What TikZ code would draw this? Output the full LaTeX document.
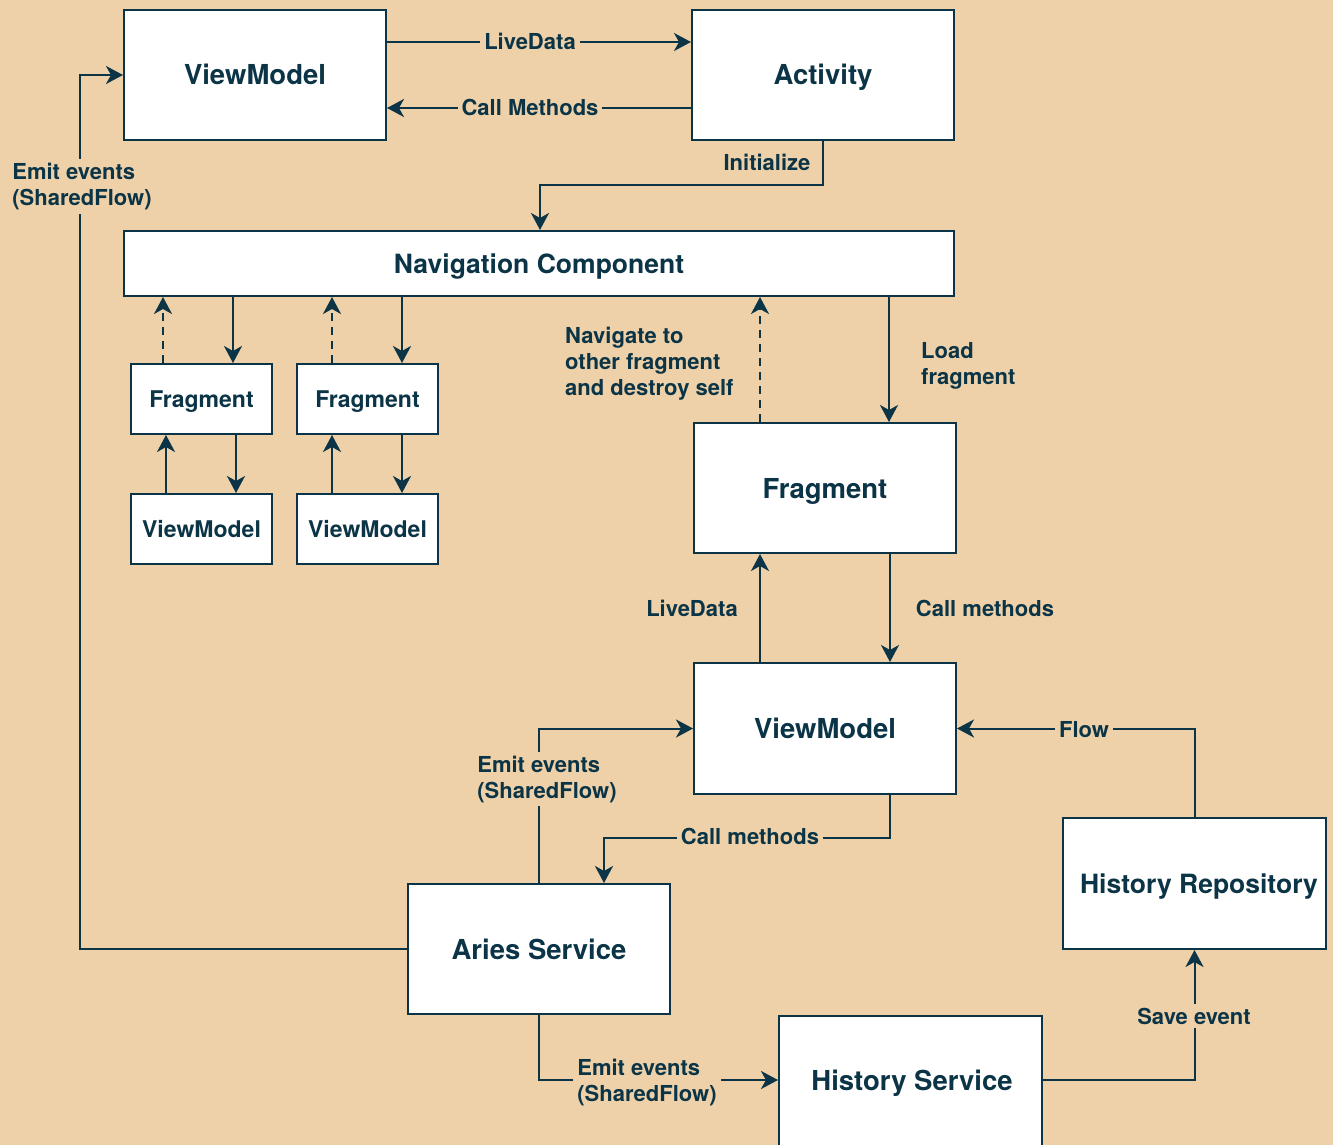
\documentclass[tikz,border=0pt]{standalone}
\usepackage{fontspec}
\setmainfont{TeX Gyre Heros}
\usetikzlibrary{arrows.meta}
\definecolor{bg}{HTML}{EED1A9}
\definecolor{ink}{HTML}{0B3446}
\begin{document}
\begin{tikzpicture}[x=1pt,y=-1pt,
  box/.style={draw=ink, fill=white, line width=2pt, text=ink, inner sep=0pt,
    font=\bfseries\fontsize{27.5}{31}\selectfont, text height=20pt, text depth=0pt},
  bigbox/.style={box, minimum width=262pt, minimum height=130pt},
  smallbox/.style={box, minimum width=141pt, minimum height=70pt,
    font=\bfseries\fontsize{23}{27}\selectfont, text height=16.5pt, text depth=0pt},
  lbl/.style={text=ink, font=\bfseries\fontsize{22}{26}\selectfont, fill=bg,
    inner sep=4pt, align=left},
  one/.style={text height=16pt, text depth=0pt},
  freelbl/.style={text=ink, font=\bfseries\fontsize{22}{26}\selectfont,
    inner sep=0pt, align=left},
  conn/.style={draw=ink, line width=2pt},
  arr/.style={conn, -{Stealth[length=17pt,width=18pt,inset=5pt]}},
  darr/.style={arr, dash pattern=on 8pt off 6pt}
]
\fill[bg] (0,0) rectangle (1333,1145);
\useasboundingbox (0,0) rectangle (1333,1145);

% boxes
\node[bigbox] (vm1) at (255,75) {ViewModel};
\node[bigbox] (act) at (823,75) {Activity};
\node[box, minimum width=830pt, minimum height=65pt, font=\bfseries\fontsize{26.5}{30}\selectfont] (nav) at (539,263.5) {Navigation Component};
\node[smallbox] (fr1) at (201.5,399) {Fragment};
\node[smallbox] (vmA) at (201.5,529) {ViewModel};
\node[smallbox] (fr2) at (367.5,399) {Fragment};
\node[smallbox] (vmB) at (367.5,529) {ViewModel};
\node[bigbox] (frag) at (825,488) {Fragment};
\node[bigbox, minimum height=131pt] (vm2) at (825,728.5) {ViewModel};
\node[bigbox, minimum width=263pt, minimum height=131pt] (hrepo) at (1194.5,883.5) {};
\node[box, draw=none, fill=none, font=\bfseries\fontsize{26.5}{30}\selectfont] (hrepotext) at (1199,883.5) {History Repository};
\node[bigbox] (aries) at (539,949) {Aries Service};
\node[box, minimum width=263pt, minimum height=160pt, anchor=north] (hist) at (910.5,1015) {};
\node[box, draw=none, fill=none] (histtext) at (912,1080) {History Service};

% helper coordinates
\coordinate (y42) at (0,42);
\coordinate (y108) at (0,108);
\coordinate (y185) at (0,185);
\coordinate (y838) at (0,838);
\coordinate (x80) at (80,0);
\coordinate (x163) at (163,0);
\coordinate (x166) at (166,0);
\coordinate (x233) at (233,0);
\coordinate (x236) at (236,0);
\coordinate (x332) at (332,0);
\coordinate (x402) at (402,0);
\coordinate (x540) at (540,0);
\coordinate (x604) at (604,0);
\coordinate (x760) at (760,0);
\coordinate (x889) at (889,0);
\coordinate (x890) at (890,0);

% top connectors
\draw[arr] (vm1.east |- y42) -- (act.west |- y42);
\draw[arr] (act.west |- y108) -- (vm1.east |- y108);
\draw[arr] (act.south) -- (act.south |- y185) -- (x540 |- y185) -- (x540 |- nav.north);

% small fragments
\draw[darr] (x163 |- fr1.north) -- (x163 |- nav.south);
\draw[arr] (x233 |- nav.south) -- (x233 |- fr1.north);
\draw[darr] (x332 |- fr2.north) -- (x332 |- nav.south);
\draw[arr] (x402 |- nav.south) -- (x402 |- fr2.north);
\draw[arr] (x236 |- fr1.south) -- (x236 |- vmA.north);
\draw[arr] (x166 |- vmA.north) -- (x166 |- fr1.south);
\draw[arr] (x402 |- fr2.south) -- (x402 |- vmB.north);
\draw[arr] (x332 |- vmB.north) -- (x332 |- fr2.south);

% big fragment
\draw[darr] (x760 |- frag.north) -- (x760 |- nav.south);
\draw[arr] (x889 |- nav.south) -- (x889 |- frag.north);
\draw[arr] (x760 |- vm2.north) -- (x760 |- frag.south);
\draw[arr] (x890 |- frag.south) -- (x890 |- vm2.north);

% lower connectors
\draw[arr] (hrepo.north) |- (vm2.east);
\draw[arr] (aries.north) |- (vm2.west);
\draw[arr] (x890 |- vm2.south) -- (x890 |- y838) -- (x604 |- y838) -- (x604 |- aries.north);
\draw[arr] (aries.west) -- (x80 |- aries.west) -- (x80 |- vm1.west) -- (vm1.west);
\draw[arr] (aries.south) -- (aries.south |- histtext) -- (hist.west |- histtext);
\draw[arr] (hist.east |- histtext) -- (hrepo.south |- histtext) -- (hrepo.south);

% labels
\node[lbl, one] (lLive) at (530,42) {LiveData};
\node[lbl, one] (lCall) at (530,108) {Call Methods};
\node[freelbl, one] (lInit) at (767,163) {Initialize};
\node[freelbl, anchor=west] (lNav) at (565,363.5) {Navigate to\\other fragment\\and destroy self};
\node[freelbl, anchor=west] (lLoad) at (921,365.5) {Load\\fragment};
\node[freelbl, one] (lLive2) at (692,608) {LiveData};
\node[freelbl, one] (lCall2) at (985,608) {Call methods};
\node[lbl, one] (lFlow) at (1084,729) {Flow};
\node[lbl] (lEmit1) at (547,779) {Emit events\\(SharedFlow)};
\node[lbl, one] (lCall3) at (750,836) {Call methods};
\node[lbl] (lEmit2) at (82,186.5) {Emit events\\(SharedFlow)};
\node[lbl] (lEmit3) at (647,1082) {Emit events\\(SharedFlow)};
\node[lbl, one] (lSave) at (1194,1016) {Save event};
\end{tikzpicture}
\end{document}
